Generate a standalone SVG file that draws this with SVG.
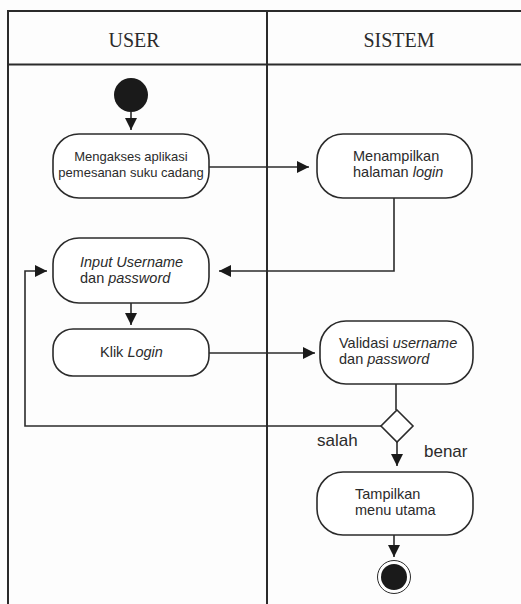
<svg xmlns="http://www.w3.org/2000/svg" width="521" height="604" viewBox="0 0 521 604">
  <style>
    .frame { fill: none; stroke: #2b2b2b; stroke-width: 2; }
    .node { fill: #ffffff; stroke: #2b2b2b; stroke-width: 1.6; }
    .edge { fill: none; stroke: #2b2b2b; stroke-width: 1.6; }
    .lane { font-family: "Liberation Serif", "Times New Roman", serif; font-size: 20px; fill: #2b2b2b; }
    .txt { font-family: "Liberation Sans", Arial, sans-serif; font-size: 14.5px; fill: #2b2b2b; }
    .txt.narrow { font-size: 13px; }
    .guard { font-family: "Liberation Sans", Arial, sans-serif; font-size: 17px; fill: #2b2b2b; }
    .it { font-style: italic; }
  </style>
  <defs>
    <marker id="arrow" markerWidth="12" markerHeight="12" refX="12" refY="6" orient="auto" markerUnits="userSpaceOnUse">
      <path d="M0,0 L12,6 L0,12 Z" fill="#1a1a1a"/>
    </marker>
  </defs>

  <rect width="521" height="604" fill="#fdfdfd"/>

  <!-- swimlane frame -->
  <g id="swimlanes">
    <path class="frame" d="M8,604 V11 H521"/>
    <path class="frame" d="M8,64.5 H521"/>
    <path class="frame" d="M267,11 V604"/>
    <text class="lane" x="134" y="47" text-anchor="middle">USER</text>
    <text class="lane" x="399" y="47" text-anchor="middle">SISTEM</text>
  </g>

  <!-- connectors -->
  <g id="connectors">
    <path class="edge" d="M131,112 V130" marker-end="url(#arrow)"/>
    <path class="edge" d="M209,167 H309" marker-end="url(#arrow)"/>
    <path class="edge" d="M394,198 V271 H219" marker-end="url(#arrow)"/>
    <path class="edge" d="M131,303 V325" marker-end="url(#arrow)"/>
    <path class="edge" d="M209,353 H315" marker-end="url(#arrow)"/>
    <path class="edge" d="M396,384 V410"/>
    <path class="edge" d="M381,426 H25 V271 H47" marker-end="url(#arrow)"/>
    <path class="edge" d="M397,442 V466" marker-end="url(#arrow)"/>
    <path class="edge" d="M394,535 V557" marker-end="url(#arrow)"/>
    <text class="guard" x="317" y="446">salah</text>
    <text class="guard" x="424" y="457">benar</text>
  </g>

  <g id="start">
    <circle cx="131" cy="95" r="17" fill="#1a1a1a"/>
  </g>

  <g id="akses-aplikasi">
    <rect class="node" x="53" y="134" width="156" height="64" rx="26"/>
    <text class="txt narrow" x="131" y="161" text-anchor="middle">Mengakses aplikasi</text>
    <text class="txt narrow" x="131" y="177" text-anchor="middle">pemesanan suku cadang</text>
  </g>

  <g id="tampil-login">
    <rect class="node" x="317" y="134" width="155" height="64" rx="26"/>
    <text class="txt" x="353" y="161">Menampilkan</text>
    <text class="txt" x="353" y="177">halaman <tspan class="it">login</tspan></text>
  </g>

  <g id="input-username">
    <rect class="node" x="53" y="238" width="156" height="65" rx="26"/>
    <text class="txt it" x="80" y="267">Input Username</text>
    <text class="txt" x="80" y="283">dan <tspan class="it">password</tspan></text>
  </g>

  <g id="klik-login">
    <rect class="node" x="53" y="329" width="156" height="47" rx="20"/>
    <text class="txt" x="100" y="357">Klik <tspan class="it">Login</tspan></text>
  </g>

  <g id="validasi">
    <rect class="node" x="320" y="321" width="153" height="63" rx="26"/>
    <text class="txt" x="339" y="348">Validasi <tspan class="it">username</tspan></text>
    <text class="txt" x="339" y="364">dan <tspan class="it">password</tspan></text>
  </g>

  <g id="decision">
    <path class="node" d="M397,410 L413,426 L397,442 L381,426 Z"/>
  </g>

  <g id="menu-utama">
    <rect class="node" x="317" y="472" width="156" height="63" rx="26"/>
    <text class="txt" x="355" y="499">Tampilkan</text>
    <text class="txt" x="355" y="515">menu utama</text>
  </g>

  <g id="end">
    <circle cx="394" cy="577" r="16.5" fill="#ffffff" stroke="#2b2b2b" stroke-width="1"/>
    <circle cx="394" cy="577" r="13" fill="#1a1a1a"/>
  </g>
</svg>
